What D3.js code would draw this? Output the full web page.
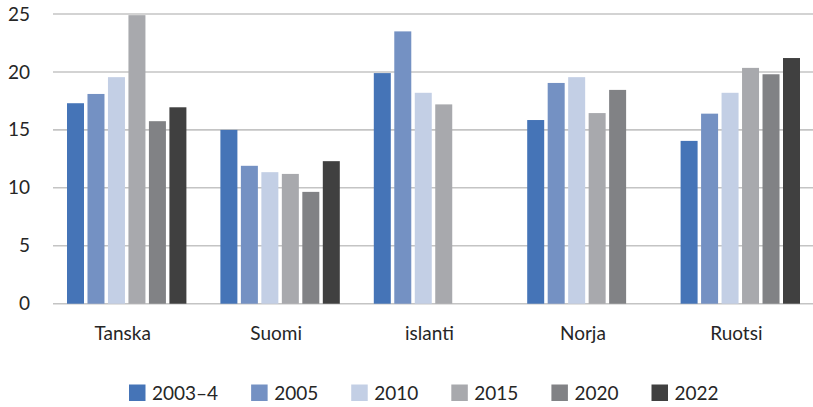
<!DOCTYPE html>
<html>
<head>
<meta charset="utf-8">
<script src="https://cdn.jsdelivr.net/npm/d3@7"></script>
<style>
  html, body { margin: 0; padding: 0; background: #fff; }
  svg { display: block; font-family: Lato, "Noto Sans", sans-serif; }
</style>
</head>
<body>
<svg id="chart" width="813" height="407"></svg>
<script>
const categories = ["Tanska", "Suomi", "islanti", "Norja", "Ruotsi"];
const seriesNames = ["2003\u20134", "2005", "2010", "2015", "2020", "2022"];
const v2003_4 = [17.3, 15.0, 19.9, 15.85, 14.05];
const v2005   = [18.1, 11.9, 23.5, 19.05, 16.4];
const v2010   = [19.55, 11.35, 18.2, 19.55, 18.2];
const v2015   = [24.9, 11.2, 17.2, 16.45, 20.35];
const v2020   = [15.75, 9.65, null, 18.45, 19.8];
const v2022   = [16.95, 12.3, null, null, 21.2];
const seriesValues = [v2003_4, v2005, v2010, v2015, v2020, v2022];
const yTicks = [0, 5, 10, 15, 20, 25];
const colors = ["#4574b7", "#7491c3", "#c3cfe5", "#a8a9ad", "#818285", "#404040"];

const svg = d3.select("#chart");
const mLeft = 50, mRight = 817, mTop = 14, mBottom = 303.7;

const x0 = d3.scaleBand().domain(categories).range([mLeft, mRight]).paddingInner(0).paddingOuter(0);
const x1 = d3.scaleBand().domain(seriesNames).range([0, x0.bandwidth()]).paddingInner(0.17).paddingOuter(0.83);
const y = d3.scaleLinear().domain([0, 25]).range([mBottom, mTop]);

// gridlines
svg.append("g").selectAll("line").data(yTicks).join("line")
  .attr("x1", 53).attr("x2", 813)
  .attr("y1", d => y(d)).attr("y2", d => y(d))
  .attr("stroke", "#c4c4c4").attr("stroke-width", 1.6);

// y axis labels
const yAxis = d3.axisLeft(y).tickValues(yTicks).tickSize(0).tickPadding(0);
const gy = svg.append("g").attr("transform", "translate(30,0)").call(yAxis);
gy.select(".domain").remove();
gy.selectAll("text").attr("font-family", "Lato, 'Noto Sans', sans-serif")
  .attr("font-size", 19).attr("fill", "#262626");

// bars
const data = [];
categories.forEach((c, i) => {
  seriesNames.forEach((s, j) => {
    const v = seriesValues[j][i];
    if (v != null) data.push({cat: c, ser: s, val: v, j});
  });
});
svg.append("g").selectAll("rect").data(data).join("rect")
  .attr("x", d => x0(d.cat) + x1(d.ser))
  .attr("width", x1.bandwidth())
  .attr("y", d => y(d.val))
  .attr("height", d => y(0) - y(d.val))
  .attr("fill", d => colors[d.j]);

// x axis labels
const xAxis = d3.axisBottom(x0).tickSize(0).tickPadding(0);
const gx = svg.append("g").attr("transform", "translate(-4,326)").call(xAxis);
gx.select(".domain").remove();
gx.selectAll("text").attr("font-family", "Lato, 'Noto Sans', sans-serif")
  .attr("font-size", 19).attr("fill", "#262626").attr("dy", "0.71em");

// legend
const legend = svg.append("g").attr("transform", "translate(0,393)");
let lx = 129;
seriesNames.forEach((s, j) => {
  legend.append("rect").attr("x", lx).attr("y", -8.5).attr("width", 16.5).attr("height", 16.5).attr("fill", colors[j]);
  const t = legend.append("text").attr("x", lx + 23).attr("y", 0).attr("dy", "0.35em")
    .attr("font-size", 19).attr("fill", "#262626").text(s);
  const w = t.node().getComputedTextLength();
  lx = lx + 23 + w + 33;
});
</script>
</body>
</html>
